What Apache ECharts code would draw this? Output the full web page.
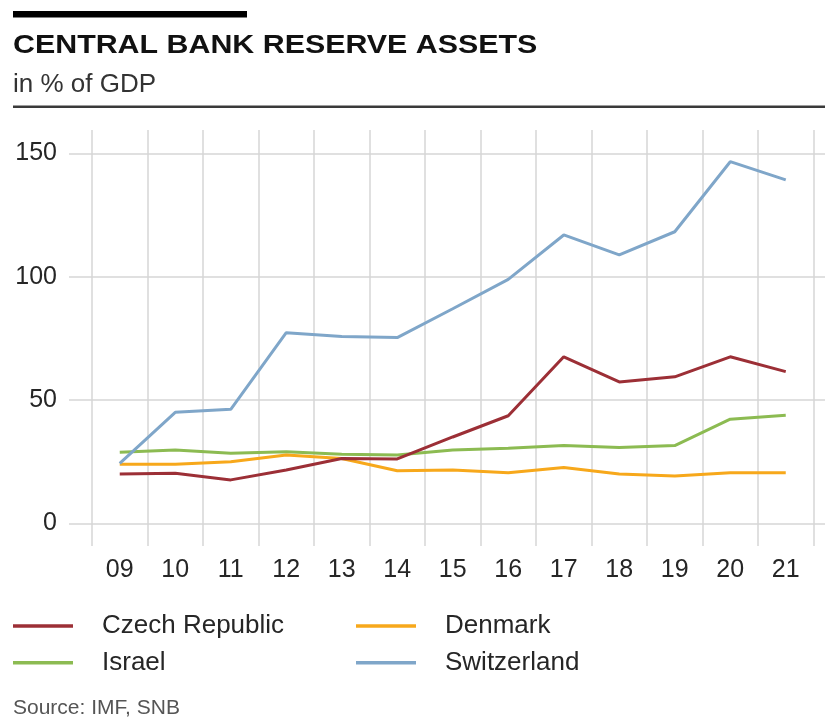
<!DOCTYPE html>
<html>
<head>
<meta charset="utf-8">
<script src="https://cdn.jsdelivr.net/npm/echarts@6/dist/echarts.min.js"></script>
<style>
html,body{margin:0;padding:0;background:#fff;}
#chart{width:825px;height:719px;}
</style>
</head>
<body>
<div id="chart"></div>
<script>
const years = ['09','10','11','12','13','14','15','16','17','18','19','20','21'];
const czech = [20.0, 20.3, 17.6, 21.6, 26.3, 26.1, 35.0, 43.6, 67.5, 57.3, 59.4, 67.5, 61.5];
const denmark = [23.9, 23.9, 25.0, 27.7, 26.3, 21.3, 21.6, 20.5, 22.6, 20.0, 19.2, 20.5, 20.5];
const israel = [28.8, 29.7, 28.4, 29.0, 28.0, 27.7, 29.7, 30.4, 31.5, 30.7, 31.5, 42.2, 43.8];
const switzerland = [24.3, 45.0, 46.2, 77.3, 75.7, 75.3, 87.0, 98.9, 116.9, 108.8, 118.2, 146.6, 139.2];
const yTicks = [0, 50, 100, 150];

const FONT = '"Liberation Sans", Arial, sans-serif';
const TXT = '#262626';
const GRID = '#d6d6d6';

const chart = echarts.init(document.getElementById('chart'), null, {renderer: 'canvas'});

const lineSeries = (name, data, color) => ({
  name, type: 'line', data, xAxisIndex: 0, yAxisIndex: 0,
  symbol: 'none', lineStyle: {width: 3, color}, itemStyle: {color},
  emphasis: {disabled: true}, animation: false
});

const legendBase = {
  orient: 'vertical', top: 608, icon: 'rect', itemWidth: 60, itemHeight: 3.5,
  itemGap: 10.7, selectedMode: false,
  textStyle: {fontFamily: FONT, fontSize: 26, color: TXT, lineHeight: 26, padding: [0, 0, 0, 24]}
};

chart.setOption({
  animation: false,
  grid: [
    {left: 92, right: 11.5, top: 130, height: 416},
    {left: 69, right: 0, top: 153.3, height: 370}
  ],
  xAxis: [
    {
      type: 'category', data: years, gridIndex: 0, boundaryGap: true,
      axisLine: {show: false}, axisTick: {show: false},
      axisLabel: {fontFamily: FONT, fontSize: 25, color: TXT, margin: 12},
      splitLine: {show: true, lineStyle: {color: GRID, width: 1.5}}
    },
    {type: 'value', gridIndex: 1, show: false, min: 0, max: 1}
  ],
  yAxis: [
    {type: 'value', gridIndex: 0, show: false, min: -9.2, max: 159.45},
    {
      type: 'value', gridIndex: 1, min: yTicks[0], max: yTicks[yTicks.length - 1], interval: 50,
      axisLine: {show: false}, axisTick: {show: false},
      axisLabel: {fontFamily: FONT, fontSize: 25, color: TXT, margin: 12, padding: [9, 0, 0, 0]},
      splitLine: {show: true, lineStyle: {color: GRID, width: 1.5}}
    }
  ],
  legend: [
    Object.assign({}, legendBase, {left: 8, data: ['Czech Republic', 'Israel']}),
    Object.assign({}, legendBase, {left: 351, data: ['Denmark', 'Switzerland']})
  ],
  series: [
    lineSeries('Israel', israel, '#8cbb52'),
    lineSeries('Denmark', denmark, '#f7a81b'),
    lineSeries('Czech Republic', czech, '#9c2f36'),
    lineSeries('Switzerland', switzerland, '#7fa6c9')
  ],
  graphic: [
    {type: 'rect', shape: {x: 13, y: 11, width: 234, height: 6.5}, style: {fill: '#000'}, silent: true},
    {type: 'text', x: 13, y: 46, scaleX: 1.215, style: {text: 'CENTRAL BANK RESERVE ASSETS', font: 'bold 25px ' + FONT, fill: '#111', verticalAlign: 'middle'}, silent: true},
    {type: 'text', x: 13, y: 85, style: {text: 'in % of GDP', font: '26px ' + FONT, fill: '#333', verticalAlign: 'middle'}, silent: true},
    {type: 'rect', shape: {x: 13, y: 105.5, width: 812, height: 2.5}, style: {fill: '#3a3a3a'}, silent: true},
    {type: 'text', x: 13, y: 708, style: {text: 'Source: IMF, SNB', font: '21px ' + FONT, fill: '#555', verticalAlign: 'middle'}, silent: true}
  ]
});
</script>
</body>
</html>
